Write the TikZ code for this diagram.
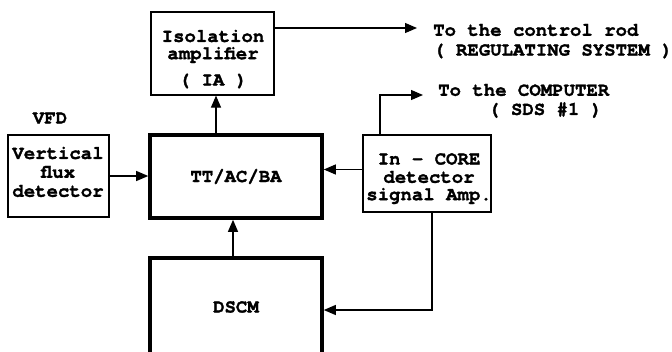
\documentclass[tikz,border=0pt]{standalone}
\usepackage{fontspec}
\setmainfont{TeX Gyre Cursor}[BoldFeatures={FakeBold=1.5}]
\usetikzlibrary{arrows.meta}
\tikzset{
  thinbox/.style={draw, line width=1.2pt, inner sep=0pt, align=center},
  thickbox/.style={draw, line width=3.6pt, inner sep=0pt, align=center},
  arr/.style={line width=1.2pt, -{Triangle[length=12pt,width=10pt]}},
  lbl/.style={anchor=west},
  every node/.style={inner sep=0pt, font=\fontsize{19}{20}\selectfont\bfseries}
}
\begin{document}
\begin{tikzpicture}[x=1pt,y=-1pt]
\useasboundingbox (0,0) rectangle (672,351);
\clip (0,0) rectangle (672,351);
% boxes
\node[thinbox, minimum width=123pt, minimum height=83pt] (IA) at (212.5,53.5) {};
\node at (213,36) {Isolation};
\node at (213,55) {amplifier};
\node at (213,81) {( IA )};
\node[thickbox, minimum width=172pt, minimum height=83pt] (TT) at (236,176.5) {TT/AC/BA};
\node[thinbox, minimum width=101pt, minimum height=82pt] (VFD) at (58.5,176) {};
\node at (58,153) {Vertical};
\node at (58,172) {flux};
\node at (58,191) {detector};
\node (vfdl) at (50,118) {VFD};
\node[thinbox, minimum width=128pt, minimum height=77pt] (IC) at (427,173.5) {};
\node at (429,159) {In - CORE};
\node at (429,177) {detector};
\node at (429,196) {signal Amp.};
\node[thickbox, minimum width=172pt, minimum height=98pt] (DSCM) at (236,307) {DSCM};
% external labels
\node[lbl] (t1) at (433,30) {To the control rod};
\node[lbl] (t2) at (433,51) {( REGULATING SYSTEM )};
\node[lbl] (t3) at (438,90) {To the COMPUTER};
\node[lbl] (t4) at (488,110) {( SDS \#1 )};
\coordinate (ctrl) at (417,28);
\coordinate (comp) at (423,95);
% connectors
\draw[arr] ([xshift=3.5pt]IA.south |- TT.north) -- ([xshift=3.5pt]IA.south);
\draw[arr] ([xshift=-3pt]DSCM.north) -- ([xshift=-3pt]DSCM.north |- TT.south);
\draw[arr] (VFD.east) -- (VFD.east -| TT.west);
\draw[arr] ([yshift=4pt]IC.west) -- ([yshift=4pt]IC.west -| TT.east);
\draw[arr] (IA.east |- ctrl) -- (ctrl);
\draw[arr] ([xshift=-47pt]IC.north) |- (comp);
\draw[arr] ([xshift=5pt]IC.south) |- ([yshift=-3pt]DSCM.east);
\end{tikzpicture}
\end{document}
